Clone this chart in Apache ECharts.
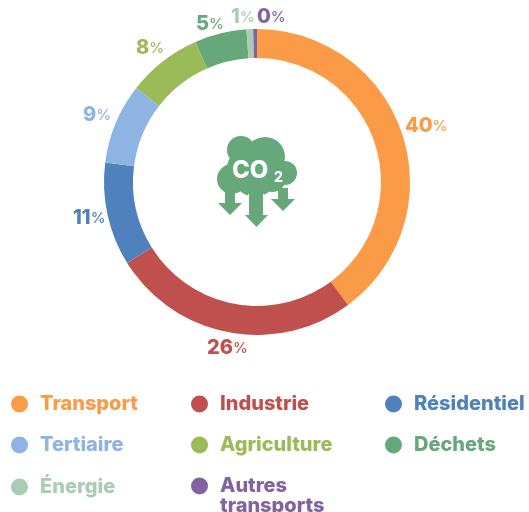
<!DOCTYPE html>
<html><head><meta charset="utf-8">
<style>html,body{margin:0;padding:0;background:#fff}#c{width:529px;height:512px}</style>
<script src="https://cdn.jsdelivr.net/npm/echarts@6/dist/echarts.min.js"></script>
</head><body><div id="c"></div>
<script>
const categories = ['Transport','Industrie','Résidentiel','Tertiaire','Agriculture','Déchets','Énergie','Autres transports'];
const shares = [39.9,26.3,10.9,8.5,7.9,5.5,0.7,0.4];
const shownPercents = [40,26,11,9,8,5,1,0];
const colors = ['#FB9A47','#C0504D','#4F81BD','#8DB4E2','#9BBB59','#66A87A','#A8CDB4','#8064A2'];
const labelSpots = [[405,126],[207,348],[73,218],[83,115],[136,48],[196,24],[231,17],[257,17]];
const legendSpots = [[11,394],[191,394],[385,394],[11,435],[191,435],[385,435],[11,477],[191,456]];
const font = 'Inter';

const chart = echarts.init(document.getElementById('c'));
const legends = categories.map((name,i)=>({
  show:true, data:[name], left:legendSpots[i][0], top:legendSpots[i][1],
  padding:0, itemWidth:17, itemHeight:17, itemGap:0, icon:'circle', selectedMode:false,
  formatter:n=>n==='Autres transports'?'\nAutres\ntransports':n,
  textStyle:{color:colors[i],fontFamily:font,fontWeight:800,fontSize:20,lineHeight:20,padding:[0,0,0,7]}
}));
const green='#66A87A';
const circ=(cx,cy,r)=>({type:'circle',shape:{cx,cy,r},style:{fill:green}});
const arrow=(x1,x2,top,hy,hl,hr,tip)=>({type:'polygon',shape:{points:[[x1,top],[x2,top],[x2,hy],[hr,hy],[(hl+hr)/2,tip],[hl,hy],[x1,hy]]},style:{fill:green}});
const gap=x=>({type:'line',shape:{x1:x,y1:194,x2:x,y2:214},style:{stroke:'#fff',lineWidth:1.2}});
chart.setOption({
  animation:false,
  color:colors,
  legend:legends,
  series:[{
    type:'pie', center:[257,182], radius:[124,153], startAngle:90, clockwise:true,
    avoidLabelOverlap:false, silent:true,
    label:{show:true,position:'outside',fontFamily:font,
      formatter:p=>`{n|${shownPercents[p.dataIndex]}}{p|%}`
    },
    labelLine:{show:false},
    labelLayout:p=>({x:labelSpots[p.dataIndex][0],y:labelSpots[p.dataIndex][1],align:'left',verticalAlign:'middle'}),
    data:categories.map((name,i)=>({name,value:shares[i],
      label:{color:colors[i],rich:{n:{color:colors[i],fontSize:20,fontWeight:800,fontFamily:font},p:{color:colors[i],fontSize:15,fontWeight:500,fontFamily:font}}}}))
  }],
  graphic:[{type:'group',silent:true,children:[
    circ(241,150,14),circ(265,157,20),circ(285,173,12),circ(232,179,15),circ(255,175,22),circ(272,178,14),circ(245,168,18),
    arrow(225,235,188,203,218,242,215),
    arrow(278,288,188,199,271,295,211),
    gap(248.4),gap(263.6),
    arrow(249,263,185,215,245,268,227),
    {type:'text',style:{text:'CO',x:232,y:159,fill:'#fff',font:'800 24px Inter'}},
    {type:'text',style:{text:'2',x:274,y:171,fill:'#fff',font:'800 14px Inter'}}
  ]}]
});
</script></body></html>
